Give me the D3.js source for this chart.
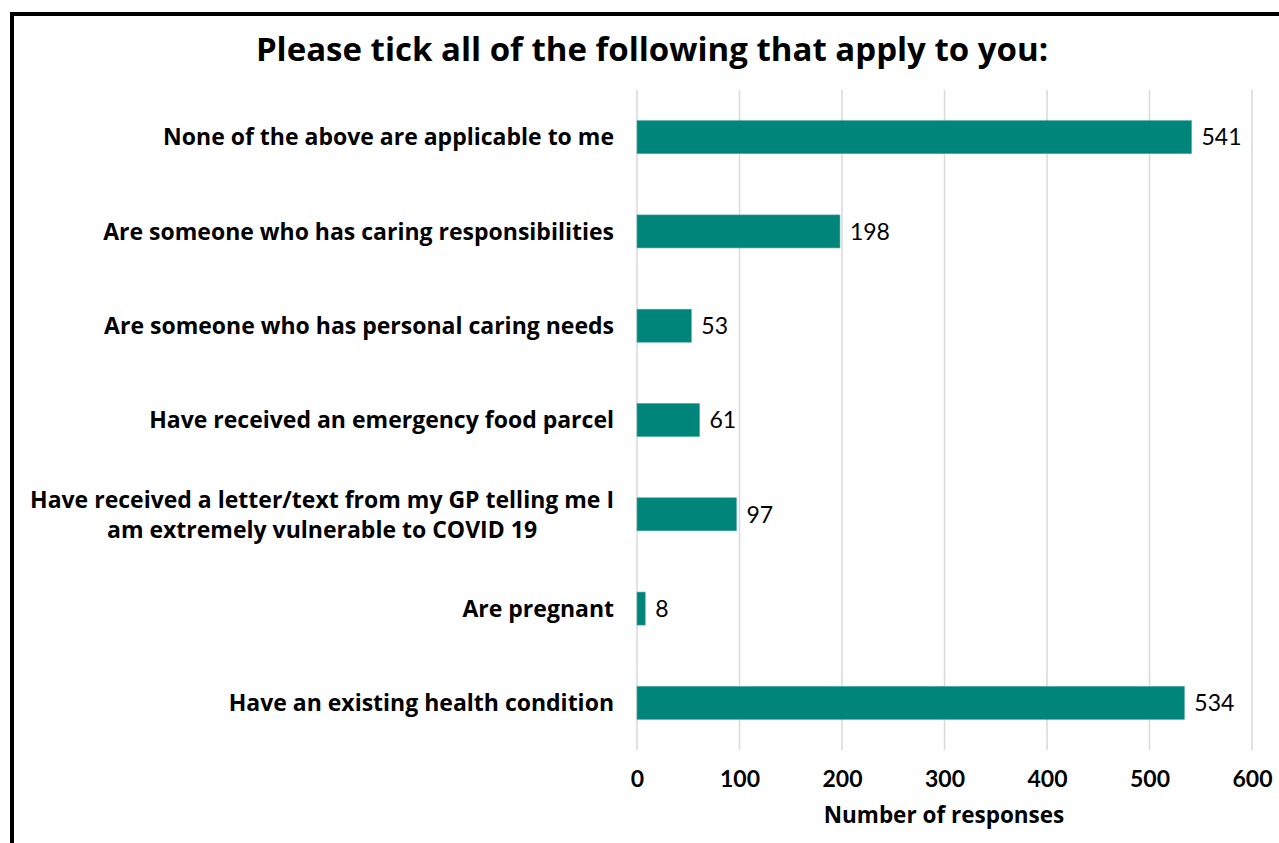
<!DOCTYPE html>
<html>
<head>
<meta charset="utf-8">
<script src="https://cdn.jsdelivr.net/npm/d3@7"></script>
<style>
  html, body { margin: 0; padding: 0; background: #fff; }
  svg { display: block; }
  text { font-family: "Open Sans", "DejaVu Sans", sans-serif; fill: #000; }
  text.num { font-family: Lato, "Open Sans", sans-serif; }
</style>
</head>
<body>
<svg id="chart" width="1279" height="843"></svg>
<script>
// Survey answers, top to bottom
const categories = [
  "None of the above are applicable to me",
  "Are someone who has caring responsibilities",
  "Are someone who has personal caring needs",
  "Have received an emergency food parcel",
  "Have received a letter/text from my GP telling me I|am extremely vulnerable to COVID 19",
  "Are pregnant",
  "Have an existing health condition"
];
const responses = [541, 198, 53, 61, 97, 8, 534];
const xTicks = [0, 100, 200, 300, 400, 500, 600];

const svg = d3.select("#chart");
const W = 1279, H = 843;
const plot = { left: 637, right: 1252, top: 90, bottom: 750 };

// Frame around the chart area
svg.append("rect")
  .attr("x", 12).attr("y", 14)
  .attr("width", W + 20).attr("height", H + 20)
  .attr("fill", "#fff").attr("stroke", "#000").attr("stroke-width", 4);

svg.append("text")
  .attr("x", 652).attr("y", 61)
  .attr("text-anchor", "middle")
  .attr("font-size", 33).attr("font-weight", "bold")
  .text("Please tick all of the following that apply to you:");

const x = d3.scaleLinear().domain([0, 600]).range([plot.left, plot.right]);
const y = d3.scaleBand().domain(categories).range([plot.top, plot.bottom]).paddingInner(0.65).paddingOuter(0.325);

// Vertical gridlines
svg.append("g").selectAll("line").data(xTicks).join("line")
  .attr("x1", d => x(d)).attr("x2", d => x(d))
  .attr("y1", plot.top).attr("y2", plot.bottom)
  .attr("stroke", "#d9d9d9").attr("stroke-width", 1.5);

// Bars
svg.append("g").selectAll("rect").data(categories).join("rect")
  .attr("x", x(0))
  .attr("y", d => y(d))
  .attr("width", (d, i) => x(responses[i]) - x(0))
  .attr("height", y.bandwidth())
  .attr("fill", "#00857a")
  .attr("stroke", "#4aa79f").attr("stroke-width", 0.6);

// Value labels
svg.append("g").selectAll("text").data(categories).join("text")
  .attr("class", "num")
  .attr("x", (d, i) => x(responses[i]) + 10)
  .attr("y", d => y(d) + y.bandwidth() / 2)
  .attr("dy", "0.36em")
  .attr("font-size", 23)
  .text((d, i) => responses[i]);

// Category labels
const labelRight = plot.left - 23;
const lab = svg.append("g");
categories.forEach(c => {
  const lines = c.split("|");
  const cy = y(c) + y.bandwidth() / 2;
  const t = lab.append("text")
    .attr("font-size", 23).attr("font-weight", "bold");
  if (lines.length === 1) {
    t.attr("x", labelRight).attr("y", cy).attr("dy", "0.36em")
      .attr("text-anchor", "end").text(lines[0]);
  } else {
    const lh = 30;
    lines.forEach((ln, k) => {
      t.append("tspan").attr("x", labelRight)
        .attr("y", cy + (k - (lines.length - 1) / 2) * lh)
        .attr("dy", "0.36em").text(ln);
    });
    // centre the lines on the widest one
    const spans = t.selectAll("tspan").nodes();
    const w = d3.max(spans, s => s.getComputedTextLength());
    t.attr("text-anchor", "middle");
    t.selectAll("tspan").attr("x", labelRight - w / 2);
  }
});

// X axis tick labels
const xAxis = d3.axisBottom(x).tickValues(xTicks).tickSize(0).tickPadding(21);
const ax = svg.append("g").attr("transform", `translate(0,${plot.bottom})`).call(xAxis);
ax.select(".domain").remove();
ax.selectAll("text")
  .attr("class", "num")
  .attr("font-size", 23).attr("font-weight", "bold")
  .attr("fill", "#000");

svg.append("text")
  .attr("x", 944).attr("y", 823)
  .attr("text-anchor", "middle")
  .attr("font-size", 22.5).attr("font-weight", "bold")
  .text("Number of responses");
</script>
</body>
</html>
